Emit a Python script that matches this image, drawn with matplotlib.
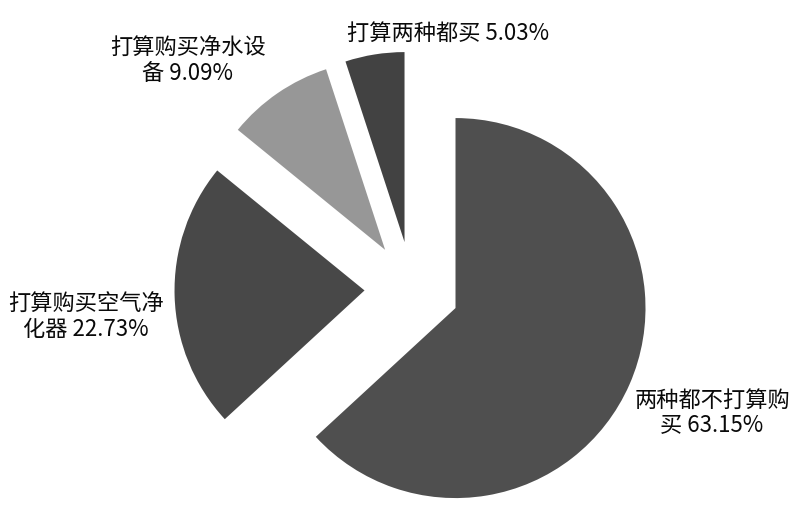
import matplotlib
matplotlib.use("Agg")
import matplotlib.pyplot as plt

plt.rcParams['font.family'] = ['Noto Sans CJK SC', 'DejaVu Sans']

# Purchase intention shares (%)
categories = ["两种都不打算购买", "打算购买空气净化器", "打算购买净水设备", "打算两种都买"]
shares = [63.15, 22.73, 9.09, 5.03]
label_lines = [["两种都不打算购", "买"], ["打算购买空气净", "化器"], ["打算购买净水设", "备"], ["打算两种都买"]]
colors = ["#4f4f4f", "#484848", "#979797", "#424242"]
explode = [0.25, 0.25, 0.25, 0.25]

# label anchor positions in figure pixels (x, y from top)
label_pos = [(712, 413), (86, 317), (188, 61), (448, 33)]

W, H = 800, 505
fig = plt.figure(figsize=(W / 100, H / 100), dpi=100)
ax = fig.add_axes([0, 0, 1, 1])

ax.pie(shares, colors=colors, explode=explode, startangle=90,
       counterclock=False, radius=1.0,
       wedgeprops=dict(linewidth=0))

# pie centre at (412, 289) px, radius 190 px
cx, cy, r = 412, 289, 190
ax.set_xlim(-cx / r, (W - cx) / r)
ax.set_ylim(-(H - cy) / r, cy / r)
ax.axis('off')

for lines, val, (px, py) in zip(label_lines, shares, label_pos):
    if len(lines) > 1:
        text = lines[0] + "\n" + lines[1] + " " + f"{val:.2f}%"
    else:
        text = lines[0] + " " + f"{val:.2f}%"
    ax.text(px / W, 1 - py / H, text, transform=ax.transAxes,
            ha='center', va='center', fontsize=16, color='#0a0a0a',
            linespacing=1.15, multialignment='center')

fig.savefig("out.png", dpi=100, facecolor='white')
